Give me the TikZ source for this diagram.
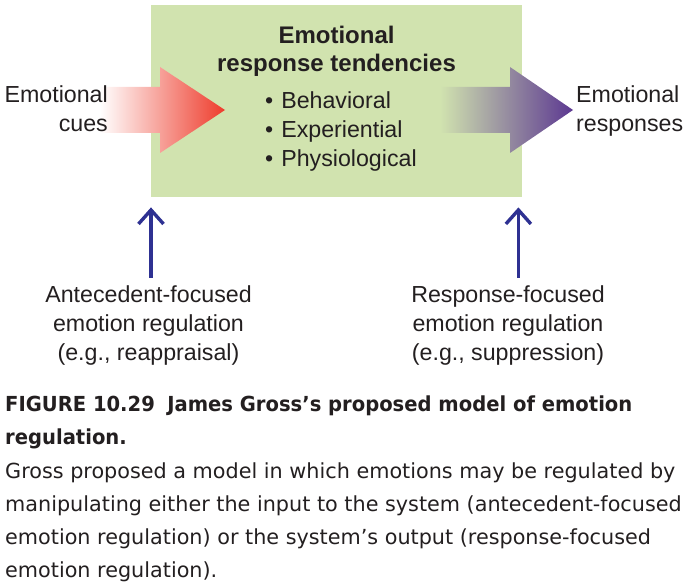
\documentclass[tikz,border=0pt]{standalone}
\usepackage{fontspec}
\setmainfont{Liberation Sans}
\newfontfamily\capfont{DejaVu Sans}
\newfontfamily\capbold{DejaVu Sans}[FakeStretch=0.945]
\usetikzlibrary{arrows.meta,calc}
\definecolor{boxgreen}{RGB}{209,227,175}
\definecolor{arrowred}{RGB}{238,60,44}
\definecolor{arrowpurple}{RGB}{92,56,145}
\definecolor{navy}{RGB}{46,49,146}
\definecolor{ink}{RGB}{35,31,32}
\tikzset{
  lbl/.style={inner sep=0pt, text=ink, font=\fontsize{23.2}{29}\selectfont},
  ttl/.style={inner sep=0pt, text=ink, font=\fontsize{24}{28}\selectfont\bfseries},
  uparrow/.style={draw=navy, line width=3.6pt, -{Straight Barb[length=14pt,width=25pt,line width=3.4pt]}},
  capt/.style={inner sep=0pt, text=ink, anchor=base west, align=left}
}
\begin{document}
\begin{tikzpicture}[x=1pt,y=-1pt]
\useasboundingbox (0,0) rectangle (687,588);
% central box
\node[fill=boxgreen, minimum width=371pt, minimum height=192pt, inner sep=0pt, anchor=north west] (box) at (151,5) {};
% input arrow (red gradient)
\shade[left color=white, right color=arrowred]
  (100,87) -- (160,87) -- (160,67) -- (225,110) -- (160,153) -- (160,133) -- (100,133) -- cycle;
% output arrow (purple gradient)
\shade[left color=boxgreen, right color=arrowpurple]
  (440,87) -- (510,87) -- (510,67) -- (573,110) -- (510,153) -- (510,133) -- (440,133) -- cycle;
% texts (base anchor = baseline of the last line)
\node[lbl, anchor=base east, align=right] (cues) at (108,132) {Emotional\\cues};
\node[ttl, anchor=base, align=center] (title) at (336.5,72) {Emotional\\response tendencies};
\node[lbl, anchor=base west, align=left] (items) at (265,167) {•\hspace{8pt}Behavioral\\•\hspace{8pt}Experiential\\•\hspace{8pt}Physiological};
\node[lbl, anchor=base west, align=left] (resp) at (576,132) {Emotional\\responses};
\node[lbl, anchor=base, align=center] (ante) at (148.5,360) {Antecedent-focused\\emotion regulation\\(e.g., reappraisal)};
\node[lbl, anchor=base, align=center] (rf) at (508,360) {Response-focused\\emotion regulation\\(e.g., suppression)};
% regulation arrows
\draw[uparrow] ([yshift=7pt]ante.north -| box.south west) -- ([yshift=-10pt]box.south west);
\draw[uparrow] ([yshift=7pt,xshift=-4pt]rf.north -| box.south east) -- ([yshift=-10pt,xshift=-4pt]box.south east);
% caption
\node[capt, font=\capbold\bfseries\fontsize{20.7}{33}\selectfont] (capA) at (5,444)
  {FIGURE 10.29\hspace{0.6em}James Gross’s proposed model of emotion\\regulation.};
\node[capt, font=\capfont\fontsize{20.75}{33}\selectfont] (capB) at (5,577)
  {Gross proposed a model in which emotions may be regulated by\\manipulating either the input to the system (antecedent-focused\\emotion regulation) or the system’s output (response-focused\\emotion regulation).};
\end{tikzpicture}
\end{document}
